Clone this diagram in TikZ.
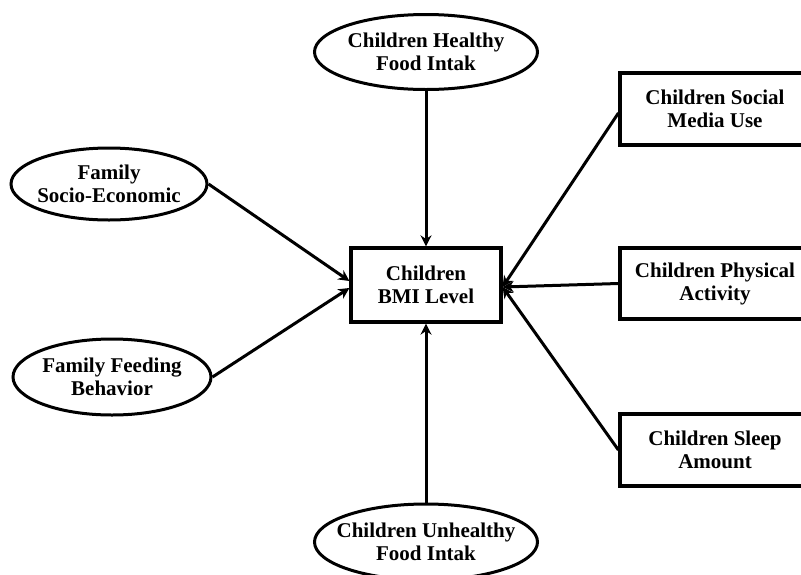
\documentclass[tikz,border=0pt]{standalone}
\usepackage{fontspec}
\setmainfont{Liberation Serif}[BoldFont={Liberation Serif Bold}]
\usetikzlibrary{shapes.geometric,arrows.meta}
\begin{document}
\begin{tikzpicture}[x=1pt,y=-1pt,
  lbl/.style={font=\bfseries\fontsize{21}{23}\selectfont, align=center, inner sep=0pt},
  oval/.style={lbl, ellipse, draw, line width=3pt, inner xsep=-20pt},
  boxn/.style={lbl, rectangle, draw, line width=3.2pt},
  conn/.style={line width=3pt, -{Stealth[length=11pt,width=11pt]}}]
\clip (0,0) rectangle (801,574);
\fill[white] (0,0) rectangle (801,574);
\node[oval, minimum width=223pt, minimum height=75pt] (healthy) at (426,52) {Children Healthy\\Food Intak};
\node[oval, minimum width=223pt, minimum height=76pt] (unhealthy) at (426,542) {Children Unhealthy\\Food Intak};
\node[oval, minimum width=196pt, minimum height=72pt] (socio) at (109,184) {Family\\Socio-Economic};
\node[oval, minimum width=198pt, minimum height=76pt] (feeding) at (112,377) {Family Feeding\\Behavior};
\node[boxn, minimum width=150pt, minimum height=74pt] (bmi) at (426,285) {Children\\BMI Level};
\node[boxn, minimum width=190pt, minimum height=72pt] (social) at (715,109) {Children Social\\Media Use};
\node[boxn, minimum width=190pt, minimum height=71pt] (physical) at (715,283.5) {Children Physical\\Activity};
\node[boxn, minimum width=190pt, minimum height=72pt] (sleep) at (715,450) {Children Sleep\\Amount};
\draw[conn] (healthy) -- (bmi);
\draw[conn] (unhealthy) -- (bmi);
\draw[conn] (socio.east) -- ([yshift=4pt]bmi.west);
\draw[conn] (feeding.east) -- ([yshift=-3pt]bmi.west);
\draw[conn] ([yshift=-4pt]social.west) -- ([yshift=-2pt]bmi.east);
\draw[conn] (physical.west) -- ([yshift=-2pt]bmi.east);
\draw[conn] (sleep.west) -- ([yshift=-2pt]bmi.east);
\end{tikzpicture}
\end{document}
